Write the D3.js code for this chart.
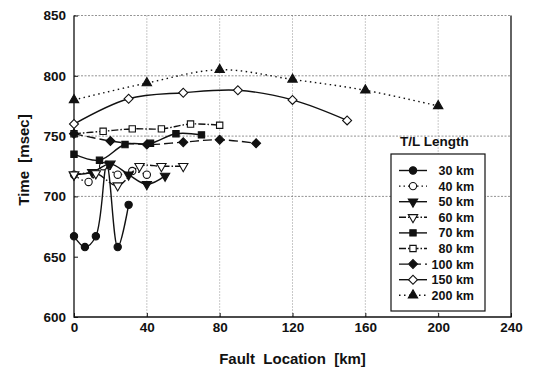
<!DOCTYPE html>
<html>
<head>
<meta charset="utf-8">
<script src="https://cdn.jsdelivr.net/npm/d3@7"></script>
<style>
  body { margin: 0; background: #fff; }
  text { font-family: "Liberation Sans", Arial, sans-serif; font-weight: bold; fill: #111; }
</style>
</head>
<body>
<div id="chart"></div>
<script>
// fault locations (km) and times (msec) per T/L length
var loc30 = [0, 6, 12, 18, 24, 30],        time30 = [667, 658, 667, 726, 658, 693];
var loc40 = [0, 8, 16, 24, 32, 40],        time40 = [718, 712, 725, 718, 721, 718];
var loc50 = [0, 10, 20, 30, 40, 50],       time50 = [718, 720, 727, 718, 710, 717];
var loc60 = [0, 12, 24, 36, 48, 60],       time60 = [718, 719, 709, 725, 725, 725];
var loc70 = [0, 14, 28, 42, 56, 70],       time70 = [735, 730, 743, 744, 752, 751];
var loc80 = [0, 16, 32, 48, 64, 80],       time80 = [752, 754, 756, 756, 760, 759];
var loc100 = [0, 20, 40, 60, 80, 100],     time100 = [752, 746, 743, 745, 747, 744];
var loc150 = [0, 30, 60, 90, 120, 150],    time150 = [760, 781, 786, 788, 780, 763];
var loc200 = [0, 40, 80, 120, 160, 200],   time200 = [780, 794, 805, 797, 788, 775];

var xTicks = [0, 40, 80, 120, 160, 200, 240];
var yTicks = [600, 650, 700, 750, 800, 850];
var yGrid = [700, 750, 800, 850];
var legendLabels = ["30 km", "40 km", "50 km", "60 km", "70 km", "80 km", "100 km", "150 km", "200 km"];

var series = [
  { name: legendLabels[0], loc: loc30, time: time30, sym: "circle", fill: true, dash: null },
  { name: legendLabels[1], loc: loc40, time: time40, sym: "circle", fill: false, dash: "1.5,3" },
  { name: legendLabels[2], loc: loc50, time: time50, sym: "down", fill: true, dash: null },
  { name: legendLabels[3], loc: loc60, time: time60, sym: "down", fill: false, dash: "7,2,1.5,2" },
  { name: legendLabels[4], loc: loc70, time: time70, sym: "square", fill: true, dash: null },
  { name: legendLabels[5], loc: loc80, time: time80, sym: "square", fill: false, dash: "7,2,1.5,2" },
  { name: legendLabels[6], loc: loc100, time: time100, sym: "diamond", fill: true, dash: "9,4" },
  { name: legendLabels[7], loc: loc150, time: time150, sym: "diamond", fill: false, dash: null },
  { name: legendLabels[8], loc: loc200, time: time200, sym: "up", fill: true, dash: "1.5,3.5" }
];

var W = 534, H = 371;
var plotL = 74, plotR = 511, plotT = 15.5, plotB = 317;

var svg = d3.select("#chart").append("svg")
    .attr("width", W)
    .attr("height", H);

var x = d3.scaleLinear().domain([0, 240]).range([plotL, plotR]);
var y = d3.scaleLinear().domain([600, 850]).range([plotB, plotT]);

// grid
svg.append("g").selectAll("line")
  .data(xTicks.slice(1, -1))
  .enter().append("line")
    .attr("x1", function(d){ return x(d); })
    .attr("x2", function(d){ return x(d); })
    .attr("y1", plotT).attr("y2", plotB)
    .attr("stroke", "#777").attr("stroke-width", 0.8)
    .attr("stroke-dasharray", "1,2");

svg.append("g").selectAll("line")
  .data(yGrid)
  .enter().append("line")
    .attr("x1", plotL).attr("x2", plotR)
    .attr("y1", function(d){ return y(d); })
    .attr("y2", function(d){ return y(d); })
    .attr("stroke", "#777").attr("stroke-width", 0.8)
    .attr("stroke-dasharray", "2,1.5");

// frame: left, bottom, right solid
svg.append("path")
    .attr("d", "M" + plotL + "," + plotT + "V" + plotB + "H" + plotR + "V" + plotT)
    .attr("fill", "none")
    .attr("stroke", "#111")
    .attr("stroke-width", 1.3);

// axes
var xAxis = d3.axisBottom(x).tickValues(xTicks).tickSize(-4).tickPadding(5);
var yAxis = d3.axisLeft(y).tickValues(yTicks).tickSize(-4).tickPadding(8);

var gx = svg.append("g").attr("transform", "translate(0," + plotB + ")").call(xAxis);
var gy = svg.append("g").attr("transform", "translate(" + plotL + ",0)").call(yAxis);
[gx, gy].forEach(function(g){
  g.select(".domain").remove();
  g.selectAll(".tick line").attr("stroke", "#111").attr("stroke-width", 1);
  g.selectAll(".tick text").attr("font-size", "13.5px").attr("fill", "#111")
    .style("font-family", "'Liberation Sans', Arial, sans-serif").style("font-weight", "bold");
});

// axis titles
svg.append("text")
    .attr("x", (plotL + plotR) / 2)
    .attr("y", 364)
    .attr("text-anchor", "middle")
    .attr("font-size", "15px")
    .attr("xml:space", "preserve")
    .text("Fault  Location  [km]");

svg.append("text")
    .attr("transform", "translate(29,160) rotate(-90)")
    .attr("text-anchor", "middle")
    .attr("font-size", "15px")
    .attr("xml:space", "preserve")
    .text("Time  [msec]");

// markers
function symPath(s) {
  if (s === "circle") return d3.symbol().type(d3.symbolCircle).size(42)();
  if (s === "square") return d3.symbol().type(d3.symbolSquare).size(40)();
  if (s === "diamond") return d3.symbol().type(d3.symbolSquare).size(40)();
  return d3.symbol().type(d3.symbolTriangle).size(38)();
}
function symRot(s) {
  if (s === "diamond") return " rotate(45)";
  if (s === "down") return " rotate(180)";
  return "";
}

var line = d3.line()
    .curve(d3.curveCatmullRom.alpha(0.5))
    .x(function(d){ return x(d[0]); })
    .y(function(d){ return y(d[1]); });

series.forEach(function(s) {
  var pts = s.loc.map(function(l, i){ return [l, s.time[i]]; });
  var g = svg.append("g");
  g.append("path")
    .datum(pts)
    .attr("d", line)
    .attr("fill", "none")
    .attr("stroke", "#111")
    .attr("stroke-width", 1.4)
    .attr("stroke-dasharray", s.dash);
  g.selectAll("path.m")
    .data(pts)
    .enter().append("path")
      .attr("class", "m")
      .attr("d", symPath(s.sym))
      .attr("transform", function(d){ return "translate(" + x(d[0]) + "," + y(d[1]) + ")" + symRot(s.sym); })
      .attr("fill", s.fill ? "#111" : "#fff")
      .attr("stroke", "#111")
      .attr("stroke-width", 1.1);
});

// legend
svg.append("text")
    .attr("x", 400)
    .attr("y", 146)
    .attr("font-size", "13.5px")
    .text("T/L Length");

var lg = svg.append("g");
lg.append("rect")
    .attr("x", 391).attr("y", 154)
    .attr("width", 94).attr("height", 157)
    .attr("fill", "#fff")
    .attr("stroke", "#111")
    .attr("stroke-width", 1.2);

var row = lg.selectAll("g.row")
  .data(series)
  .enter().append("g")
    .attr("class", "row")
    .attr("transform", function(d, i){ return "translate(0," + (170.5 + i * 15.6) + ")"; });

row.append("line")
    .attr("x1", 399).attr("x2", 427)
    .attr("stroke", "#111")
    .attr("stroke-width", 1.4)
    .attr("stroke-dasharray", function(d){ return d.dash; });

row.append("path")
    .attr("d", function(d){ return symPath(d.sym); })
    .attr("transform", function(d){ return "translate(413,0)" + symRot(d.sym); })
    .attr("fill", function(d){ return d.fill ? "#111" : "#fff"; })
    .attr("stroke", "#111")
    .attr("stroke-width", 1.1);

row.append("text")
    .attr("x", 474)
    .attr("y", 4.5)
    .attr("text-anchor", "end")
    .attr("font-size", "12.5px")
    .text(function(d){ return d.name; });
</script>
</body>
</html>
